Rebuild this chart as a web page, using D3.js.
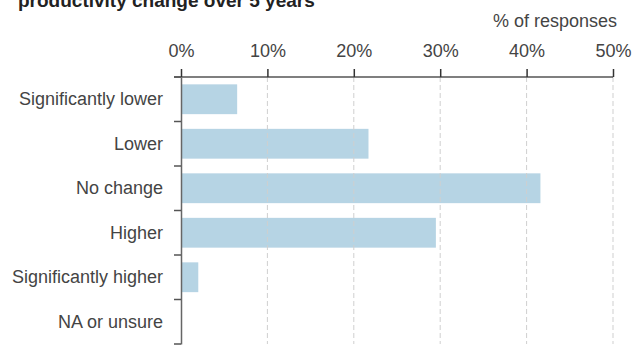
<!DOCTYPE html>
<html>
<head>
<meta charset="utf-8">
<script src="https://cdn.jsdelivr.net/npm/d3@7"></script>
<style>
  html, body { margin: 0; padding: 0; background: #fff; }
  svg { display: block; font-family: "Liberation Sans", Arial, Helvetica, sans-serif; }
</style>
</head>
<body>
<svg id="chart" width="644" height="345"></svg>
<script>
// Survey answers and share of responses (%)
const categories = ["Significantly lower", "Lower", "No change", "Higher", "Significantly higher", "NA or unsure"];
const shares = [6.5, 21.7, 41.6, 29.5, 2.0, 0];
const xTicks = [0, 10, 20, 30, 40, 50];

const svg = d3.select("#chart");
const margin = { top: 77, left: 181, right: 31, bottom: 1 };
const W = 644, H = 345;

const x = d3.scaleLinear().domain([0, 50]).range([margin.left, W - margin.right]);
const y = d3.scaleBand().domain(categories)
  .range([margin.top, H - margin.bottom])
  .paddingInner(0.33).paddingOuter(0.165);

// title (first line sits above the visible area)
svg.append("text")
  .attr("x", 18).attr("y", 7)
  .attr("font-size", 19).attr("font-weight", "bold").attr("fill", "#222")
  .text("productivity change over 5 years");

svg.append("text")
  .attr("x", 617).attr("y", 27)
  .attr("text-anchor", "end")
  .attr("font-size", 18).attr("fill", "#444")
  .text("% of responses");

// bars
svg.append("g").selectAll("rect")
  .data(categories)
  .join("rect")
  .attr("x", x(0))
  .attr("y", d => y(d))
  .attr("width", (d, i) => x(shares[i]) - x(0))
  .attr("height", y.bandwidth())
  .attr("fill", "#b6d4e4");

// dashed gridlines over the bars
svg.append("g").selectAll("line")
  .data(xTicks.slice(1))
  .join("line")
  .attr("x1", d => x(d)).attr("x2", d => x(d))
  .attr("y1", margin.top).attr("y2", H - margin.bottom)
  .attr("stroke", "#cfcfcf")
  .attr("stroke-width", 1)
  .attr("stroke-dasharray", "5,3");

// top axis
const xAxis = svg.append("g")
  .attr("transform", `translate(0,${margin.top})`)
  .call(d3.axisTop(x).tickValues(xTicks).tickFormat(d => d + "%")
    .tickSize(8).tickSizeOuter(0).tickPadding(12));
xAxis.select(".domain").attr("stroke", "#555").attr("stroke-width", 1.5)
  .attr("d", `M${margin.left - 7},0H${x(50)}`);
xAxis.selectAll(".tick line").attr("stroke", "#333").attr("stroke-width", 1.5);
xAxis.selectAll(".tick text").attr("font-size", 18).attr("fill", "#444")
  .attr("font-family", "Liberation Sans, Arial, sans-serif");

// left axis: labels at band centres, ticks at band boundaries
const yAxis = svg.append("g")
  .attr("transform", `translate(${margin.left},0)`)
  .call(d3.axisLeft(y).tickSize(0).tickPadding(18));
yAxis.select(".domain").attr("stroke", "#666").attr("stroke-width", 1.5);
yAxis.selectAll(".tick text").attr("font-size", 18).attr("fill", "#444")
  .attr("font-family", "Liberation Sans, Arial, sans-serif");

const step = y.step();
const bounds = categories.map(d => y(d) - step * 0.165).concat([H - margin.bottom]);
svg.append("g").selectAll("line")
  .data(bounds)
  .join("line")
  .attr("x1", margin.left - 7).attr("x2", margin.left)
  .attr("y1", d => d).attr("y2", d => d)
  .attr("stroke", "#555").attr("stroke-width", 1.5);
</script>
</body>
</html>
